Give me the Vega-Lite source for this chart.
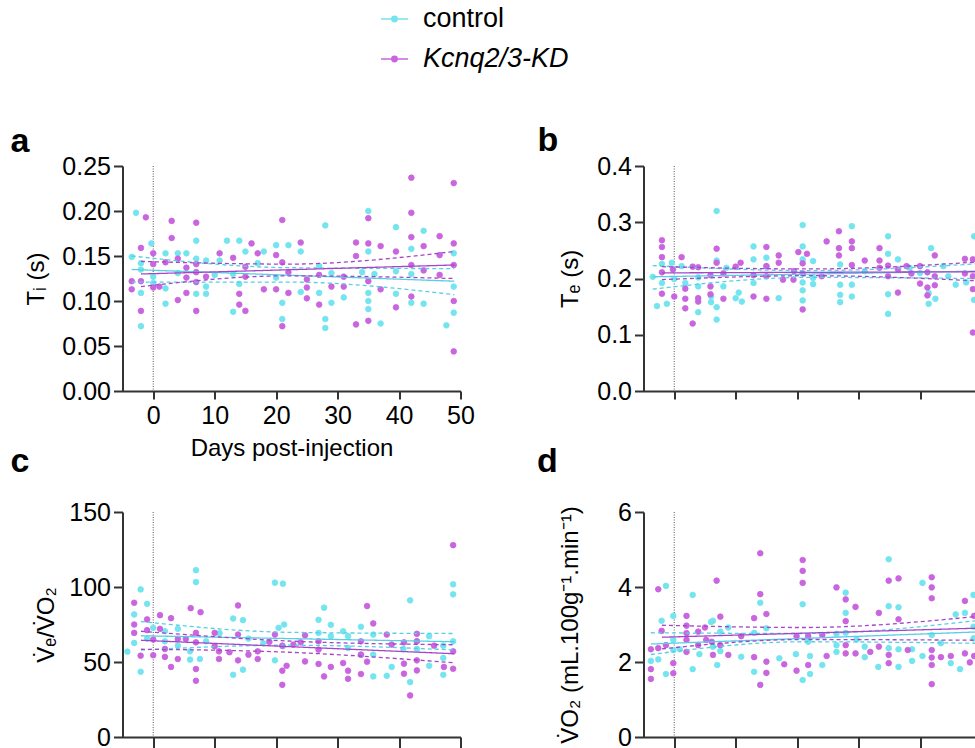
{
"$schema":"https://vega.github.io/schema/vega-lite/v6.json",
"autosize":{"type":"none"},
"padding":{"left":122.5,"top":166,"right":852.5,"bottom":582},
"background":"white",
"config":{
 "font":"Liberation Sans",
 "view":{"stroke":null},
 "axis":{"domainColor":"#333","domainWidth":2,"tickColor":"#333","tickWidth":2,"tickSize":9,"labelFontSize":25,"labelColor":"#000","titleFontSize":24,"titleFontWeight":"normal","titleColor":"#000","grid":false,"labelFont":"Liberation Sans","titleFont":"Liberation Sans","labelFlush":false,"labelOverlap":false},
 "title":{"fontSize":34,"fontWeight":"bold","anchor":"start","frame":"group","color":"#000","baseline":"alphabetic","font":"Liberation Sans"}
},
"datasets":{
"pts":[
{"p":"a","g":"control","d":-3.5,"v":0.149},{"p":"a","g":"control","d":-2.8,"v":0.198},{"p":"a","g":"control","d":-2,"v":0.142},{"p":"a","g":"control","d":-2,"v":0.135},{"p":"a","g":"control","d":-2,"v":0.109},{"p":"a","g":"control","d":-2,"v":0.072},{"p":"a","g":"control","d":-0.3,"v":0.164},{"p":"a","g":"control","d":0,"v":0.127},{"p":"a","g":"control","d":0,"v":0.12},{"p":"a","g":"control","d":2,"v":0.153},{"p":"a","g":"control","d":2,"v":0.114},{"p":"a","g":"control","d":2,"v":0.097},{"p":"a","g":"control","d":4,"v":0.153},{"p":"a","g":"control","d":4,"v":0.131},{"p":"a","g":"control","d":5.4,"v":0.153},{"p":"a","g":"control","d":7,"v":0.167},{"p":"a","g":"control","d":7,"v":0.147},{"p":"a","g":"control","d":7,"v":0.108},{"p":"a","g":"control","d":8.6,"v":0.145},{"p":"a","g":"control","d":8.6,"v":0.116},{"p":"a","g":"control","d":8.6,"v":0.108},{"p":"a","g":"control","d":10,"v":0.129},{"p":"a","g":"control","d":10.8,"v":0.145},{"p":"a","g":"control","d":12,"v":0.167},{"p":"a","g":"control","d":13,"v":0.13},{"p":"a","g":"control","d":13,"v":0.088},{"p":"a","g":"control","d":14,"v":0.167},{"p":"a","g":"control","d":14,"v":0.119},{"p":"a","g":"control","d":15,"v":0.155},{"p":"a","g":"control","d":17,"v":0.142},{"p":"a","g":"control","d":18,"v":0.155},{"p":"a","g":"control","d":20,"v":0.162},{"p":"a","g":"control","d":20,"v":0.126},{"p":"a","g":"control","d":21,"v":0.098},{"p":"a","g":"control","d":21,"v":0.08},{"p":"a","g":"control","d":22,"v":0.162},{"p":"a","g":"control","d":24,"v":0.155},{"p":"a","g":"control","d":24,"v":0.11},{"p":"a","g":"control","d":27,"v":0.139},{"p":"a","g":"control","d":27,"v":0.109},{"p":"a","g":"control","d":28,"v":0.184},{"p":"a","g":"control","d":28,"v":0.08},{"p":"a","g":"control","d":28,"v":0.07},{"p":"a","g":"control","d":29,"v":0.131},{"p":"a","g":"control","d":29,"v":0.098},{"p":"a","g":"control","d":31,"v":0.104},{"p":"a","g":"control","d":34,"v":0.132},{"p":"a","g":"control","d":35,"v":0.2},{"p":"a","g":"control","d":35,"v":0.155},{"p":"a","g":"control","d":35,"v":0.109},{"p":"a","g":"control","d":35,"v":0.1},{"p":"a","g":"control","d":35,"v":0.091},{"p":"a","g":"control","d":36,"v":0.13},{"p":"a","g":"control","d":37,"v":0.075},{"p":"a","g":"control","d":39.5,"v":0.182},{"p":"a","g":"control","d":39.5,"v":0.133},{"p":"a","g":"control","d":39.5,"v":0.108},{"p":"a","g":"control","d":42,"v":0.158},{"p":"a","g":"control","d":42,"v":0.13},{"p":"a","g":"control","d":42,"v":0.098},{"p":"a","g":"control","d":44,"v":0.178},{"p":"a","g":"control","d":44,"v":0.097},{"p":"a","g":"control","d":47.7,"v":0.073},{"p":"a","g":"control","d":48.9,"v":0.153},{"p":"a","g":"control","d":48.9,"v":0.116},{"p":"a","g":"control","d":48.9,"v":0.087},
{"p":"a","g":"Kcnq2/3-KD","d":-3.5,"v":0.122},{"p":"a","g":"Kcnq2/3-KD","d":-3.5,"v":0.113},{"p":"a","g":"Kcnq2/3-KD","d":-2,"v":0.159},{"p":"a","g":"Kcnq2/3-KD","d":-2,"v":0.122},{"p":"a","g":"Kcnq2/3-KD","d":-2,"v":0.089},{"p":"a","g":"Kcnq2/3-KD","d":-1.2,"v":0.193},{"p":"a","g":"Kcnq2/3-KD","d":0,"v":0.153},{"p":"a","g":"Kcnq2/3-KD","d":0,"v":0.141},{"p":"a","g":"Kcnq2/3-KD","d":0,"v":0.115},{"p":"a","g":"Kcnq2/3-KD","d":1,"v":0.116},{"p":"a","g":"Kcnq2/3-KD","d":2,"v":0.143},{"p":"a","g":"Kcnq2/3-KD","d":3,"v":0.189},{"p":"a","g":"Kcnq2/3-KD","d":3,"v":0.17},{"p":"a","g":"Kcnq2/3-KD","d":4,"v":0.147},{"p":"a","g":"Kcnq2/3-KD","d":4,"v":0.101},{"p":"a","g":"Kcnq2/3-KD","d":5.4,"v":0.137},{"p":"a","g":"Kcnq2/3-KD","d":5.4,"v":0.126},{"p":"a","g":"Kcnq2/3-KD","d":5.4,"v":0.109},{"p":"a","g":"Kcnq2/3-KD","d":7,"v":0.187},{"p":"a","g":"Kcnq2/3-KD","d":7,"v":0.141},{"p":"a","g":"Kcnq2/3-KD","d":7,"v":0.132},{"p":"a","g":"Kcnq2/3-KD","d":7,"v":0.121},{"p":"a","g":"Kcnq2/3-KD","d":7,"v":0.089},{"p":"a","g":"Kcnq2/3-KD","d":8.6,"v":0.127},{"p":"a","g":"Kcnq2/3-KD","d":10.8,"v":0.153},{"p":"a","g":"Kcnq2/3-KD","d":13,"v":0.148},{"p":"a","g":"Kcnq2/3-KD","d":14,"v":0.108},{"p":"a","g":"Kcnq2/3-KD","d":14,"v":0.096},{"p":"a","g":"Kcnq2/3-KD","d":15,"v":0.138},{"p":"a","g":"Kcnq2/3-KD","d":15,"v":0.127},{"p":"a","g":"Kcnq2/3-KD","d":15,"v":0.089},{"p":"a","g":"Kcnq2/3-KD","d":16,"v":0.164},{"p":"a","g":"Kcnq2/3-KD","d":17,"v":0.153},{"p":"a","g":"Kcnq2/3-KD","d":18,"v":0.113},{"p":"a","g":"Kcnq2/3-KD","d":20,"v":0.151},{"p":"a","g":"Kcnq2/3-KD","d":20,"v":0.113},{"p":"a","g":"Kcnq2/3-KD","d":21,"v":0.19},{"p":"a","g":"Kcnq2/3-KD","d":21,"v":0.143},{"p":"a","g":"Kcnq2/3-KD","d":21,"v":0.072},{"p":"a","g":"Kcnq2/3-KD","d":22,"v":0.132},{"p":"a","g":"Kcnq2/3-KD","d":22,"v":0.109},{"p":"a","g":"Kcnq2/3-KD","d":24,"v":0.165},{"p":"a","g":"Kcnq2/3-KD","d":25,"v":0.124},{"p":"a","g":"Kcnq2/3-KD","d":25,"v":0.115},{"p":"a","g":"Kcnq2/3-KD","d":25,"v":0.103},{"p":"a","g":"Kcnq2/3-KD","d":27,"v":0.129},{"p":"a","g":"Kcnq2/3-KD","d":27,"v":0.096},{"p":"a","g":"Kcnq2/3-KD","d":29,"v":0.116},{"p":"a","g":"Kcnq2/3-KD","d":31,"v":0.127},{"p":"a","g":"Kcnq2/3-KD","d":31,"v":0.116},{"p":"a","g":"Kcnq2/3-KD","d":33,"v":0.165},{"p":"a","g":"Kcnq2/3-KD","d":33,"v":0.15},{"p":"a","g":"Kcnq2/3-KD","d":33,"v":0.074},{"p":"a","g":"Kcnq2/3-KD","d":35,"v":0.192},{"p":"a","g":"Kcnq2/3-KD","d":35,"v":0.164},{"p":"a","g":"Kcnq2/3-KD","d":35,"v":0.122},{"p":"a","g":"Kcnq2/3-KD","d":35,"v":0.078},{"p":"a","g":"Kcnq2/3-KD","d":37,"v":0.161},{"p":"a","g":"Kcnq2/3-KD","d":37,"v":0.113},{"p":"a","g":"Kcnq2/3-KD","d":39.5,"v":0.155},{"p":"a","g":"Kcnq2/3-KD","d":39.5,"v":0.093},{"p":"a","g":"Kcnq2/3-KD","d":42,"v":0.237},{"p":"a","g":"Kcnq2/3-KD","d":42,"v":0.198},{"p":"a","g":"Kcnq2/3-KD","d":42,"v":0.171},{"p":"a","g":"Kcnq2/3-KD","d":42,"v":0.14},{"p":"a","g":"Kcnq2/3-KD","d":42,"v":0.105},{"p":"a","g":"Kcnq2/3-KD","d":44,"v":0.161},{"p":"a","g":"Kcnq2/3-KD","d":44,"v":0.134},{"p":"a","g":"Kcnq2/3-KD","d":46.6,"v":0.172},{"p":"a","g":"Kcnq2/3-KD","d":46.6,"v":0.151},{"p":"a","g":"Kcnq2/3-KD","d":46.6,"v":0.129},{"p":"a","g":"Kcnq2/3-KD","d":48.9,"v":0.231},{"p":"a","g":"Kcnq2/3-KD","d":48.9,"v":0.164},{"p":"a","g":"Kcnq2/3-KD","d":48.9,"v":0.14},{"p":"a","g":"Kcnq2/3-KD","d":48.9,"v":0.1},{"p":"a","g":"Kcnq2/3-KD","d":48.9,"v":0.044},
{"p":"b","g":"control","d":-3.5,"v":0.203},{"p":"b","g":"control","d":-2.8,"v":0.151},{"p":"b","g":"control","d":-2,"v":0.226},{"p":"b","g":"control","d":-2,"v":0.192},{"p":"b","g":"control","d":-1.2,"v":0.155},{"p":"b","g":"control","d":-0.4,"v":0.228},{"p":"b","g":"control","d":0,"v":0.199},{"p":"b","g":"control","d":1.2,"v":0.222},{"p":"b","g":"control","d":1.8,"v":0.192},{"p":"b","g":"control","d":3.9,"v":0.202},{"p":"b","g":"control","d":3.9,"v":0.186},{"p":"b","g":"control","d":3.9,"v":0.14},{"p":"b","g":"control","d":6,"v":0.168},{"p":"b","g":"control","d":6,"v":0.158},{"p":"b","g":"control","d":6.9,"v":0.32},{"p":"b","g":"control","d":6.9,"v":0.232},{"p":"b","g":"control","d":6.9,"v":0.149},{"p":"b","g":"control","d":6.9,"v":0.127},{"p":"b","g":"control","d":8,"v":0.186},{"p":"b","g":"control","d":8.5,"v":0.219},{"p":"b","g":"control","d":10,"v":0.165},{"p":"b","g":"control","d":10.5,"v":0.175},{"p":"b","g":"control","d":11,"v":0.159},{"p":"b","g":"control","d":12.9,"v":0.257},{"p":"b","g":"control","d":12.9,"v":0.234},{"p":"b","g":"control","d":12.9,"v":0.192},{"p":"b","g":"control","d":15,"v":0.237},{"p":"b","g":"control","d":15,"v":0.222},{"p":"b","g":"control","d":17,"v":0.165},{"p":"b","g":"control","d":20.9,"v":0.295},{"p":"b","g":"control","d":20.9,"v":0.257},{"p":"b","g":"control","d":20.9,"v":0.234},{"p":"b","g":"control","d":20.9,"v":0.193},{"p":"b","g":"control","d":20.9,"v":0.179},{"p":"b","g":"control","d":20.9,"v":0.161},{"p":"b","g":"control","d":22.6,"v":0.231},{"p":"b","g":"control","d":22.6,"v":0.201},{"p":"b","g":"control","d":22.6,"v":0.19},{"p":"b","g":"control","d":27,"v":0.225},{"p":"b","g":"control","d":27,"v":0.189},{"p":"b","g":"control","d":27,"v":0.171},{"p":"b","g":"control","d":27,"v":0.158},{"p":"b","g":"control","d":28.9,"v":0.293},{"p":"b","g":"control","d":28.9,"v":0.189},{"p":"b","g":"control","d":28.9,"v":0.168},{"p":"b","g":"control","d":31,"v":0.213},{"p":"b","g":"control","d":34.8,"v":0.275},{"p":"b","g":"control","d":34.8,"v":0.244},{"p":"b","g":"control","d":34.8,"v":0.172},{"p":"b","g":"control","d":34.8,"v":0.137},{"p":"b","g":"control","d":36.4,"v":0.234},{"p":"b","g":"control","d":38.3,"v":0.219},{"p":"b","g":"control","d":40,"v":0.21},{"p":"b","g":"control","d":41.8,"v":0.254},{"p":"b","g":"control","d":41.4,"v":0.174},{"p":"b","g":"control","d":41.4,"v":0.155},{"p":"b","g":"control","d":42.5,"v":0.164},{"p":"b","g":"control","d":43.8,"v":0.222},{"p":"b","g":"control","d":44.6,"v":0.204},{"p":"b","g":"control","d":45.8,"v":0.189},{"p":"b","g":"control","d":47.5,"v":0.193},{"p":"b","g":"control","d":48.8,"v":0.275},{"p":"b","g":"control","d":48.8,"v":0.162},
{"p":"b","g":"Kcnq2/3-KD","d":-2,"v":0.268},{"p":"b","g":"Kcnq2/3-KD","d":-2,"v":0.256},{"p":"b","g":"Kcnq2/3-KD","d":-2,"v":0.238},{"p":"b","g":"Kcnq2/3-KD","d":-2,"v":0.211},{"p":"b","g":"Kcnq2/3-KD","d":-2,"v":0.173},{"p":"b","g":"Kcnq2/3-KD","d":-0.2,"v":0.216},{"p":"b","g":"Kcnq2/3-KD","d":0,"v":0.168},{"p":"b","g":"Kcnq2/3-KD","d":1.2,"v":0.238},{"p":"b","g":"Kcnq2/3-KD","d":1.8,"v":0.182},{"p":"b","g":"Kcnq2/3-KD","d":1.8,"v":0.164},{"p":"b","g":"Kcnq2/3-KD","d":1.8,"v":0.147},{"p":"b","g":"Kcnq2/3-KD","d":3,"v":0.221},{"p":"b","g":"Kcnq2/3-KD","d":3,"v":0.12},{"p":"b","g":"Kcnq2/3-KD","d":3.9,"v":0.22},{"p":"b","g":"Kcnq2/3-KD","d":3.9,"v":0.165},{"p":"b","g":"Kcnq2/3-KD","d":3.9,"v":0.159},{"p":"b","g":"Kcnq2/3-KD","d":5.9,"v":0.206},{"p":"b","g":"Kcnq2/3-KD","d":5.9,"v":0.186},{"p":"b","g":"Kcnq2/3-KD","d":5.9,"v":0.172},{"p":"b","g":"Kcnq2/3-KD","d":6.9,"v":0.253},{"p":"b","g":"Kcnq2/3-KD","d":6.9,"v":0.228},{"p":"b","g":"Kcnq2/3-KD","d":8,"v":0.209},{"p":"b","g":"Kcnq2/3-KD","d":8,"v":0.164},{"p":"b","g":"Kcnq2/3-KD","d":10,"v":0.221},{"p":"b","g":"Kcnq2/3-KD","d":10.8,"v":0.228},{"p":"b","g":"Kcnq2/3-KD","d":12.9,"v":0.206},{"p":"b","g":"Kcnq2/3-KD","d":12.9,"v":0.168},{"p":"b","g":"Kcnq2/3-KD","d":15,"v":0.256},{"p":"b","g":"Kcnq2/3-KD","d":15,"v":0.222},{"p":"b","g":"Kcnq2/3-KD","d":15,"v":0.204},{"p":"b","g":"Kcnq2/3-KD","d":15,"v":0.164},{"p":"b","g":"Kcnq2/3-KD","d":17,"v":0.241},{"p":"b","g":"Kcnq2/3-KD","d":17,"v":0.228},{"p":"b","g":"Kcnq2/3-KD","d":17.7,"v":0.198},{"p":"b","g":"Kcnq2/3-KD","d":19.4,"v":0.198},{"p":"b","g":"Kcnq2/3-KD","d":19.5,"v":0.213},{"p":"b","g":"Kcnq2/3-KD","d":20.2,"v":0.247},{"p":"b","g":"Kcnq2/3-KD","d":20.9,"v":0.227},{"p":"b","g":"Kcnq2/3-KD","d":20.9,"v":0.209},{"p":"b","g":"Kcnq2/3-KD","d":20.9,"v":0.145},{"p":"b","g":"Kcnq2/3-KD","d":21.6,"v":0.244},{"p":"b","g":"Kcnq2/3-KD","d":24,"v":0.204},{"p":"b","g":"Kcnq2/3-KD","d":24.8,"v":0.266},{"p":"b","g":"Kcnq2/3-KD","d":26.8,"v":0.284},{"p":"b","g":"Kcnq2/3-KD","d":26.8,"v":0.254},{"p":"b","g":"Kcnq2/3-KD","d":26.8,"v":0.241},{"p":"b","g":"Kcnq2/3-KD","d":28.9,"v":0.266},{"p":"b","g":"Kcnq2/3-KD","d":28.9,"v":0.254},{"p":"b","g":"Kcnq2/3-KD","d":28.9,"v":0.224},{"p":"b","g":"Kcnq2/3-KD","d":31,"v":0.232},{"p":"b","g":"Kcnq2/3-KD","d":33.4,"v":0.254},{"p":"b","g":"Kcnq2/3-KD","d":33.4,"v":0.232},{"p":"b","g":"Kcnq2/3-KD","d":33.4,"v":0.219},{"p":"b","g":"Kcnq2/3-KD","d":34.8,"v":0.223},{"p":"b","g":"Kcnq2/3-KD","d":34.8,"v":0.204},{"p":"b","g":"Kcnq2/3-KD","d":36.4,"v":0.216},{"p":"b","g":"Kcnq2/3-KD","d":36.4,"v":0.175},{"p":"b","g":"Kcnq2/3-KD","d":37.8,"v":0.222},{"p":"b","g":"Kcnq2/3-KD","d":38.6,"v":0.209},{"p":"b","g":"Kcnq2/3-KD","d":40,"v":0.222},{"p":"b","g":"Kcnq2/3-KD","d":40,"v":0.191},{"p":"b","g":"Kcnq2/3-KD","d":41.2,"v":0.211},{"p":"b","g":"Kcnq2/3-KD","d":41.2,"v":0.184},{"p":"b","g":"Kcnq2/3-KD","d":41.2,"v":0.17},{"p":"b","g":"Kcnq2/3-KD","d":42.4,"v":0.241},{"p":"b","g":"Kcnq2/3-KD","d":42.4,"v":0.204},{"p":"b","g":"Kcnq2/3-KD","d":42.4,"v":0.188},{"p":"b","g":"Kcnq2/3-KD","d":47.3,"v":0.235},{"p":"b","g":"Kcnq2/3-KD","d":47.3,"v":0.209},{"p":"b","g":"Kcnq2/3-KD","d":48.6,"v":0.234},{"p":"b","g":"Kcnq2/3-KD","d":48.6,"v":0.204},{"p":"b","g":"Kcnq2/3-KD","d":48.6,"v":0.181},{"p":"b","g":"Kcnq2/3-KD","d":48.6,"v":0.104},
{"p":"c","g":"control","d":-4.2,"v":56.9},{"p":"c","g":"control","d":-3.1,"v":81.7},{"p":"c","g":"control","d":-3.1,"v":62.7},{"p":"c","g":"control","d":-2.05,"v":98.4},{"p":"c","g":"control","d":-2.05,"v":43.5},{"p":"c","g":"control","d":-1,"v":88.8},{"p":"c","g":"control","d":-1,"v":65.6},{"p":"c","g":"control","d":0,"v":72.8},{"p":"c","g":"control","d":1.9,"v":70.5},{"p":"c","g":"control","d":1.9,"v":63.8},{"p":"c","g":"control","d":4,"v":72.1},{"p":"c","g":"control","d":4,"v":60.9},{"p":"c","g":"control","d":6,"v":57.1},{"p":"c","g":"control","d":6,"v":51.6},{"p":"c","g":"control","d":6.95,"v":111.2},{"p":"c","g":"control","d":6.95,"v":103.3},{"p":"c","g":"control","d":7.6,"v":52},{"p":"c","g":"control","d":8.6,"v":63.8},{"p":"c","g":"control","d":10.8,"v":69.2},{"p":"c","g":"control","d":13,"v":79},{"p":"c","g":"control","d":13,"v":41.5},{"p":"c","g":"control","d":14.6,"v":77.9},{"p":"c","g":"control","d":14.6,"v":44.9},{"p":"c","g":"control","d":15.5,"v":65.6},{"p":"c","g":"control","d":17.9,"v":62.5},{"p":"c","g":"control","d":19.8,"v":102.9},{"p":"c","g":"control","d":21.1,"v":102.2},{"p":"c","g":"control","d":19.8,"v":51.1},{"p":"c","g":"control","d":20.4,"v":72.8},{"p":"c","g":"control","d":21.3,"v":75},{"p":"c","g":"control","d":21.1,"v":60.5},{"p":"c","g":"control","d":26.9,"v":78.1},{"p":"c","g":"control","d":26.9,"v":69.4},{"p":"c","g":"control","d":27.8,"v":86.2},{"p":"c","g":"control","d":28.9,"v":74.8},{"p":"c","g":"control","d":28.9,"v":67.2},{"p":"c","g":"control","d":30.9,"v":70.5},{"p":"c","g":"control","d":31.7,"v":67.2},{"p":"c","g":"control","d":31.7,"v":59.4},{"p":"c","g":"control","d":33.8,"v":73.5},{"p":"c","g":"control","d":33.8,"v":54.9},{"p":"c","g":"control","d":35.8,"v":68.3},{"p":"c","g":"control","d":35.8,"v":54.9},{"p":"c","g":"control","d":35.8,"v":40.4},{"p":"c","g":"control","d":38,"v":40.8},{"p":"c","g":"control","d":38.8,"v":46.7},{"p":"c","g":"control","d":40.7,"v":58.7},{"p":"c","g":"control","d":41.8,"v":91.1},{"p":"c","g":"control","d":41.8,"v":36.6},{"p":"c","g":"control","d":42.9,"v":63.8},{"p":"c","g":"control","d":42.9,"v":58.7},{"p":"c","g":"control","d":44.9,"v":67.2},{"p":"c","g":"control","d":44.9,"v":47.5},{"p":"c","g":"control","d":47.2,"v":52.7},{"p":"c","g":"control","d":47.2,"v":41.5},{"p":"c","g":"control","d":47.2,"v":60.9},{"p":"c","g":"control","d":48.8,"v":101.8},{"p":"c","g":"control","d":48.8,"v":95.1},{"p":"c","g":"control","d":48.8,"v":63.8},
{"p":"c","g":"Kcnq2/3-KD","d":-3.1,"v":89.5},{"p":"c","g":"Kcnq2/3-KD","d":-3.1,"v":75},{"p":"c","g":"Kcnq2/3-KD","d":-3.1,"v":69.4},{"p":"c","g":"Kcnq2/3-KD","d":-2.05,"v":54.2},{"p":"c","g":"Kcnq2/3-KD","d":-1,"v":78.4},{"p":"c","g":"Kcnq2/3-KD","d":-1,"v":71.2},{"p":"c","g":"Kcnq2/3-KD","d":0,"v":65},{"p":"c","g":"Kcnq2/3-KD","d":0,"v":54.5},{"p":"c","g":"Kcnq2/3-KD","d":1.1,"v":81.2},{"p":"c","g":"Kcnq2/3-KD","d":1.1,"v":72.1},{"p":"c","g":"Kcnq2/3-KD","d":1.9,"v":58.7},{"p":"c","g":"Kcnq2/3-KD","d":1.9,"v":53.4},{"p":"c","g":"Kcnq2/3-KD","d":2.9,"v":79.2},{"p":"c","g":"Kcnq2/3-KD","d":2.9,"v":46.7},{"p":"c","g":"Kcnq2/3-KD","d":4,"v":65.4},{"p":"c","g":"Kcnq2/3-KD","d":4,"v":52},{"p":"c","g":"Kcnq2/3-KD","d":5.3,"v":65.4},{"p":"c","g":"Kcnq2/3-KD","d":6.1,"v":85.9},{"p":"c","g":"Kcnq2/3-KD","d":6.95,"v":69.4},{"p":"c","g":"Kcnq2/3-KD","d":6.95,"v":63.1},{"p":"c","g":"Kcnq2/3-KD","d":6.95,"v":45.3},{"p":"c","g":"Kcnq2/3-KD","d":6.95,"v":37.5},{"p":"c","g":"Kcnq2/3-KD","d":7.7,"v":83.2},{"p":"c","g":"Kcnq2/3-KD","d":10,"v":69.4},{"p":"c","g":"Kcnq2/3-KD","d":10,"v":60.5},{"p":"c","g":"Kcnq2/3-KD","d":10.7,"v":57.1},{"p":"c","g":"Kcnq2/3-KD","d":10.7,"v":52},{"p":"c","g":"Kcnq2/3-KD","d":12.4,"v":56.5},{"p":"c","g":"Kcnq2/3-KD","d":13.8,"v":87.7},{"p":"c","g":"Kcnq2/3-KD","d":13.8,"v":68.3},{"p":"c","g":"Kcnq2/3-KD","d":13.8,"v":51.1},{"p":"c","g":"Kcnq2/3-KD","d":15.5,"v":54.9},{"p":"c","g":"Kcnq2/3-KD","d":17,"v":57.1},{"p":"c","g":"Kcnq2/3-KD","d":17,"v":52},{"p":"c","g":"Kcnq2/3-KD","d":18.9,"v":63.4},{"p":"c","g":"Kcnq2/3-KD","d":19.8,"v":68.3},{"p":"c","g":"Kcnq2/3-KD","d":21,"v":60.9},{"p":"c","g":"Kcnq2/3-KD","d":21,"v":44.2},{"p":"c","g":"Kcnq2/3-KD","d":21,"v":34.8},{"p":"c","g":"Kcnq2/3-KD","d":21.7,"v":47.5},{"p":"c","g":"Kcnq2/3-KD","d":22.8,"v":61.6},{"p":"c","g":"Kcnq2/3-KD","d":24,"v":63.1},{"p":"c","g":"Kcnq2/3-KD","d":24.7,"v":67.8},{"p":"c","g":"Kcnq2/3-KD","d":24.7,"v":50.4},{"p":"c","g":"Kcnq2/3-KD","d":26.9,"v":63.8},{"p":"c","g":"Kcnq2/3-KD","d":26.9,"v":58.3},{"p":"c","g":"Kcnq2/3-KD","d":26.9,"v":48.7},{"p":"c","g":"Kcnq2/3-KD","d":27.8,"v":40.4},{"p":"c","g":"Kcnq2/3-KD","d":28.9,"v":46.7},{"p":"c","g":"Kcnq2/3-KD","d":30.9,"v":49.3},{"p":"c","g":"Kcnq2/3-KD","d":31.7,"v":44.2},{"p":"c","g":"Kcnq2/3-KD","d":31.7,"v":38.8},{"p":"c","g":"Kcnq2/3-KD","d":33.8,"v":63.8},{"p":"c","g":"Kcnq2/3-KD","d":33.8,"v":54.9},{"p":"c","g":"Kcnq2/3-KD","d":33.8,"v":42},{"p":"c","g":"Kcnq2/3-KD","d":34.8,"v":87.3},{"p":"c","g":"Kcnq2/3-KD","d":34.8,"v":50.2},{"p":"c","g":"Kcnq2/3-KD","d":35.8,"v":75.7},{"p":"c","g":"Kcnq2/3-KD","d":38,"v":68.3},{"p":"c","g":"Kcnq2/3-KD","d":38.8,"v":61.6},{"p":"c","g":"Kcnq2/3-KD","d":40.8,"v":63.1},{"p":"c","g":"Kcnq2/3-KD","d":40.8,"v":48.9},{"p":"c","g":"Kcnq2/3-KD","d":40.8,"v":42.2},{"p":"c","g":"Kcnq2/3-KD","d":41.8,"v":27.7},{"p":"c","g":"Kcnq2/3-KD","d":42.9,"v":68.8},{"p":"c","g":"Kcnq2/3-KD","d":42.9,"v":63.8},{"p":"c","g":"Kcnq2/3-KD","d":42.9,"v":51.1},{"p":"c","g":"Kcnq2/3-KD","d":42.9,"v":44.4},{"p":"c","g":"Kcnq2/3-KD","d":45.7,"v":60.9},{"p":"c","g":"Kcnq2/3-KD","d":47.3,"v":46.7},{"p":"c","g":"Kcnq2/3-KD","d":48.8,"v":127.9},{"p":"c","g":"Kcnq2/3-KD","d":48.8,"v":57.1},{"p":"c","g":"Kcnq2/3-KD","d":48.8,"v":45.5},
{"p":"d","g":"control","d":-3.8,"v":2.03},{"p":"d","g":"control","d":-2.6,"v":2.07},{"p":"d","g":"control","d":-2.05,"v":3.1},{"p":"d","g":"control","d":-1.35,"v":4.03},{"p":"d","g":"control","d":-1.35,"v":1.68},{"p":"d","g":"control","d":-0.15,"v":3.23},{"p":"d","g":"control","d":-0.15,"v":2.59},{"p":"d","g":"control","d":-0.15,"v":2.32},{"p":"d","g":"control","d":0.9,"v":2.34},{"p":"d","g":"control","d":3,"v":3.79},{"p":"d","g":"control","d":3,"v":1.81},{"p":"d","g":"control","d":4.1,"v":2.21},{"p":"d","g":"control","d":6,"v":3.07},{"p":"d","g":"control","d":6.3,"v":3.1},{"p":"d","g":"control","d":6.3,"v":2.41},{"p":"d","g":"control","d":7,"v":1.92},{"p":"d","g":"control","d":7.5,"v":2.81},{"p":"d","g":"control","d":7.5,"v":2.29},{"p":"d","g":"control","d":8.8,"v":2.92},{"p":"d","g":"control","d":10.9,"v":2.14},{"p":"d","g":"control","d":13,"v":2.78},{"p":"d","g":"control","d":13,"v":1.74},{"p":"d","g":"control","d":14,"v":3.58},{"p":"d","g":"control","d":15,"v":2.9},{"p":"d","g":"control","d":17.1,"v":2.1},{"p":"d","g":"control","d":19.8,"v":2.21},{"p":"d","g":"control","d":20.9,"v":3.54},{"p":"d","g":"control","d":20.9,"v":1.52},{"p":"d","g":"control","d":21.8,"v":2.54},{"p":"d","g":"control","d":22.1,"v":2.16},{"p":"d","g":"control","d":22.1,"v":1.68},{"p":"d","g":"control","d":24.1,"v":1.92},{"p":"d","g":"control","d":26.4,"v":2.75},{"p":"d","g":"control","d":26.4,"v":2.45},{"p":"d","g":"control","d":26.4,"v":2.27},{"p":"d","g":"control","d":27.9,"v":3.85},{"p":"d","g":"control","d":27.9,"v":3.31},{"p":"d","g":"control","d":27.9,"v":2.78},{"p":"d","g":"control","d":29.7,"v":2.6},{"p":"d","g":"control","d":31,"v":2.41},{"p":"d","g":"control","d":31,"v":2.13},{"p":"d","g":"control","d":33.2,"v":1.87},{"p":"d","g":"control","d":34.9,"v":4.74},{"p":"d","g":"control","d":34.9,"v":3.49},{"p":"d","g":"control","d":34.9,"v":2.37},{"p":"d","g":"control","d":36.5,"v":3.46},{"p":"d","g":"control","d":36.5,"v":2.34},{"p":"d","g":"control","d":36.5,"v":1.87},{"p":"d","g":"control","d":38.7,"v":2.34},{"p":"d","g":"control","d":38.7,"v":2.03},{"p":"d","g":"control","d":40.4,"v":4.11},{"p":"d","g":"control","d":40.4,"v":2.16},{"p":"d","g":"control","d":41.9,"v":2.72},{"p":"d","g":"control","d":43.4,"v":2.5},{"p":"d","g":"control","d":45,"v":1.97},{"p":"d","g":"control","d":45.8,"v":3.27},{"p":"d","g":"control","d":46.5,"v":1.81},{"p":"d","g":"control","d":47.3,"v":3.31},{"p":"d","g":"control","d":48.7,"v":3.79},{"p":"d","g":"control","d":48.7,"v":2.94},{"p":"d","g":"control","d":48.7,"v":2.63},
{"p":"d","g":"Kcnq2/3-KD","d":-3.8,"v":2.34},{"p":"d","g":"Kcnq2/3-KD","d":-3.8,"v":1.81},{"p":"d","g":"Kcnq2/3-KD","d":-3.8,"v":1.55},{"p":"d","g":"Kcnq2/3-KD","d":-2.6,"v":3.94},{"p":"d","g":"Kcnq2/3-KD","d":-2.6,"v":2.37},{"p":"d","g":"Kcnq2/3-KD","d":-2.05,"v":2.83},{"p":"d","g":"Kcnq2/3-KD","d":-1.35,"v":2.45},{"p":"d","g":"Kcnq2/3-KD","d":-0.15,"v":1.97},{"p":"d","g":"Kcnq2/3-KD","d":-0.15,"v":1.7},{"p":"d","g":"Kcnq2/3-KD","d":2,"v":3.23},{"p":"d","g":"Kcnq2/3-KD","d":2,"v":2.97},{"p":"d","g":"Kcnq2/3-KD","d":2,"v":2.77},{"p":"d","g":"Kcnq2/3-KD","d":2,"v":2.59},{"p":"d","g":"Kcnq2/3-KD","d":2,"v":2.27},{"p":"d","g":"Kcnq2/3-KD","d":3.9,"v":2.81},{"p":"d","g":"Kcnq2/3-KD","d":3.9,"v":2.45},{"p":"d","g":"Kcnq2/3-KD","d":5,"v":2.92},{"p":"d","g":"Kcnq2/3-KD","d":5.2,"v":2.59},{"p":"d","g":"Kcnq2/3-KD","d":6.1,"v":2.54},{"p":"d","g":"Kcnq2/3-KD","d":6.3,"v":2.19},{"p":"d","g":"Kcnq2/3-KD","d":6.9,"v":4.17},{"p":"d","g":"Kcnq2/3-KD","d":7.5,"v":3.21},{"p":"d","g":"Kcnq2/3-KD","d":7.5,"v":2.45},{"p":"d","g":"Kcnq2/3-KD","d":8.8,"v":2.19},{"p":"d","g":"Kcnq2/3-KD","d":10.9,"v":2.69},{"p":"d","g":"Kcnq2/3-KD","d":13,"v":3.17},{"p":"d","g":"Kcnq2/3-KD","d":13,"v":2.13},{"p":"d","g":"Kcnq2/3-KD","d":14,"v":4.9},{"p":"d","g":"Kcnq2/3-KD","d":14,"v":3.81},{"p":"d","g":"Kcnq2/3-KD","d":14,"v":1.39},{"p":"d","g":"Kcnq2/3-KD","d":15,"v":3.28},{"p":"d","g":"Kcnq2/3-KD","d":15,"v":2.01},{"p":"d","g":"Kcnq2/3-KD","d":15,"v":1.71},{"p":"d","g":"Kcnq2/3-KD","d":17.9,"v":1.94},{"p":"d","g":"Kcnq2/3-KD","d":19.9,"v":2.69},{"p":"d","g":"Kcnq2/3-KD","d":19.9,"v":1.77},{"p":"d","g":"Kcnq2/3-KD","d":20.9,"v":4.72},{"p":"d","g":"Kcnq2/3-KD","d":20.9,"v":4.43},{"p":"d","g":"Kcnq2/3-KD","d":20.9,"v":4.11},{"p":"d","g":"Kcnq2/3-KD","d":21.8,"v":2.69},{"p":"d","g":"Kcnq2/3-KD","d":21.8,"v":1.92},{"p":"d","g":"Kcnq2/3-KD","d":24.1,"v":2.72},{"p":"d","g":"Kcnq2/3-KD","d":24.8,"v":2.16},{"p":"d","g":"Kcnq2/3-KD","d":26.4,"v":3.99},{"p":"d","g":"Kcnq2/3-KD","d":27.9,"v":3.67},{"p":"d","g":"Kcnq2/3-KD","d":27.9,"v":3.09},{"p":"d","g":"Kcnq2/3-KD","d":27.9,"v":2.45},{"p":"d","g":"Kcnq2/3-KD","d":27.9,"v":2.23},{"p":"d","g":"Kcnq2/3-KD","d":29.5,"v":3.47},{"p":"d","g":"Kcnq2/3-KD","d":29.5,"v":2.23},{"p":"d","g":"Kcnq2/3-KD","d":31.9,"v":2.27},{"p":"d","g":"Kcnq2/3-KD","d":33.3,"v":3.31},{"p":"d","g":"Kcnq2/3-KD","d":33.3,"v":2.41},{"p":"d","g":"Kcnq2/3-KD","d":34.9,"v":4.17},{"p":"d","g":"Kcnq2/3-KD","d":34.9,"v":2.19},{"p":"d","g":"Kcnq2/3-KD","d":34.9,"v":1.97},{"p":"d","g":"Kcnq2/3-KD","d":36.5,"v":4.23},{"p":"d","g":"Kcnq2/3-KD","d":36.5,"v":3.14},{"p":"d","g":"Kcnq2/3-KD","d":38,"v":2.32},{"p":"d","g":"Kcnq2/3-KD","d":41.9,"v":4.26},{"p":"d","g":"Kcnq2/3-KD","d":41.9,"v":3.99},{"p":"d","g":"Kcnq2/3-KD","d":41.9,"v":3.7},{"p":"d","g":"Kcnq2/3-KD","d":41.9,"v":2.32},{"p":"d","g":"Kcnq2/3-KD","d":41.9,"v":2.12},{"p":"d","g":"Kcnq2/3-KD","d":41.9,"v":1.92},{"p":"d","g":"Kcnq2/3-KD","d":41.9,"v":1.41},{"p":"d","g":"Kcnq2/3-KD","d":43.4,"v":2.13},{"p":"d","g":"Kcnq2/3-KD","d":45,"v":2.16},{"p":"d","g":"Kcnq2/3-KD","d":47.3,"v":3.63},{"p":"d","g":"Kcnq2/3-KD","d":47.3,"v":2.23},{"p":"d","g":"Kcnq2/3-KD","d":48.1,"v":1.99},{"p":"d","g":"Kcnq2/3-KD","d":48.8,"v":3.23},{"p":"d","g":"Kcnq2/3-KD","d":48.8,"v":2.16}
],
"fits":[
{"p":"a","g":"control","k":"fit","d":-3.5,"v":0.135},{"p":"a","g":"control","k":"fit","d":49,"v":0.122},
{"p":"a","g":"control","k":"upper","d":-3.5,"v":0.150},{"p":"a","g":"control","k":"upper","d":22,"v":0.137},{"p":"a","g":"control","k":"upper","d":49,"v":0.136},
{"p":"a","g":"control","k":"lower","d":-3.5,"v":0.121},{"p":"a","g":"control","k":"lower","d":22,"v":0.121},{"p":"a","g":"control","k":"lower","d":49,"v":0.107},
{"p":"a","g":"Kcnq2/3-KD","k":"fit","d":-2,"v":0.130},{"p":"a","g":"Kcnq2/3-KD","k":"fit","d":49,"v":0.140},
{"p":"a","g":"Kcnq2/3-KD","k":"upper","d":-2,"v":0.144},{"p":"a","g":"Kcnq2/3-KD","k":"upper","d":22,"v":0.141},{"p":"a","g":"Kcnq2/3-KD","k":"upper","d":49,"v":0.155},
{"p":"a","g":"Kcnq2/3-KD","k":"lower","d":-2,"v":0.116},{"p":"a","g":"Kcnq2/3-KD","k":"lower","d":22,"v":0.128},{"p":"a","g":"Kcnq2/3-KD","k":"lower","d":49,"v":0.125},
{"p":"b","g":"control","k":"fit","d":-3.5,"v":0.203},{"p":"b","g":"control","k":"fit","d":49,"v":0.213},
{"p":"b","g":"control","k":"upper","d":-3.5,"v":0.223},{"p":"b","g":"control","k":"upper","d":22,"v":0.214},{"p":"b","g":"control","k":"upper","d":49,"v":0.226},
{"p":"b","g":"control","k":"lower","d":-3.5,"v":0.181},{"p":"b","g":"control","k":"lower","d":22,"v":0.202},{"p":"b","g":"control","k":"lower","d":49,"v":0.200},
{"p":"b","g":"Kcnq2/3-KD","k":"fit","d":-2,"v":0.210},{"p":"b","g":"Kcnq2/3-KD","k":"fit","d":49,"v":0.212},
{"p":"b","g":"Kcnq2/3-KD","k":"upper","d":-2,"v":0.221},{"p":"b","g":"Kcnq2/3-KD","k":"upper","d":22,"v":0.217},{"p":"b","g":"Kcnq2/3-KD","k":"upper","d":49,"v":0.229},
{"p":"b","g":"Kcnq2/3-KD","k":"lower","d":-2,"v":0.198},{"p":"b","g":"Kcnq2/3-KD","k":"lower","d":22,"v":0.205},{"p":"b","g":"Kcnq2/3-KD","k":"lower","d":49,"v":0.196},
{"p":"c","g":"control","k":"fit","d":-2,"v":67.5},{"p":"c","g":"control","k":"fit","d":49,"v":63.5},
{"p":"c","g":"control","k":"upper","d":-2,"v":77},{"p":"c","g":"control","k":"upper","d":22,"v":69.8},{"p":"c","g":"control","k":"upper","d":49,"v":69},
{"p":"c","g":"control","k":"lower","d":-2,"v":58},{"p":"c","g":"control","k":"lower","d":22,"v":61.2},{"p":"c","g":"control","k":"lower","d":49,"v":58},
{"p":"c","g":"Kcnq2/3-KD","k":"fit","d":-2,"v":64.5},{"p":"c","g":"Kcnq2/3-KD","k":"fit","d":49,"v":55.5},
{"p":"c","g":"Kcnq2/3-KD","k":"upper","d":-2,"v":70.5},{"p":"c","g":"Kcnq2/3-KD","k":"upper","d":22,"v":64},{"p":"c","g":"Kcnq2/3-KD","k":"upper","d":49,"v":61.5},
{"p":"c","g":"Kcnq2/3-KD","k":"lower","d":-2,"v":58.5},{"p":"c","g":"Kcnq2/3-KD","k":"lower","d":22,"v":56.5},{"p":"c","g":"Kcnq2/3-KD","k":"lower","d":49,"v":49.5},
{"p":"d","g":"control","k":"fit","d":-3.8,"v":2.48},{"p":"d","g":"control","k":"fit","d":49,"v":2.80},
{"p":"d","g":"control","k":"upper","d":-3.8,"v":2.78},{"p":"d","g":"control","k":"upper","d":21,"v":2.76},{"p":"d","g":"control","k":"upper","d":49,"v":3.10},
{"p":"d","g":"control","k":"lower","d":-3.8,"v":2.20},{"p":"d","g":"control","k":"lower","d":21,"v":2.54},{"p":"d","g":"control","k":"lower","d":49,"v":2.50},
{"p":"d","g":"Kcnq2/3-KD","k":"fit","d":-2,"v":2.66},{"p":"d","g":"Kcnq2/3-KD","k":"fit","d":49,"v":2.90},
{"p":"d","g":"Kcnq2/3-KD","k":"upper","d":-2,"v":2.98},{"p":"d","g":"Kcnq2/3-KD","k":"upper","d":21,"v":2.92},{"p":"d","g":"Kcnq2/3-KD","k":"upper","d":49,"v":3.21},
{"p":"d","g":"Kcnq2/3-KD","k":"lower","d":-2,"v":2.35},{"p":"d","g":"Kcnq2/3-KD","k":"lower","d":21,"v":2.60},{"p":"d","g":"Kcnq2/3-KD","k":"lower","d":49,"v":2.58}
]
},
"columns":2,
"spacing":{"row":121,"column":183},
"bounds":"flush",
"concat":[
{"width":338,"height":225,
 "title":{"text":"a","dx":-112,"offset":-5},
 "layer":[
  {"data":{"values":[{"d":0}]},"mark":{"type":"rule","color":"#555","strokeWidth":1,"strokeDash":[1,1.5]},
   "encoding":{"x":{"field":"d","type":"quantitative","scale":{"domain":[-5,50],"nice":false,"zero":false},"axis":{"values":[0,10,20,30,40,50],"title":"Days post-injection","tickSize":8,"labelPadding":4,"titlePadding":8}}}},
  {"data":{"name":"pts"},"transform":[{"filter":"datum.p==='a'"}],"mark":{"type":"circle","size":32,"opacity":1,"strokeWidth":0.8},
   "encoding":{
    "x":{"field":"d","type":"quantitative","scale":{"domain":[-5,50],"nice":false,"zero":false},"axis":{"values":[0,10,20,30,40,50],"title":"Days post-injection","tickSize":8,"labelPadding":4,"titlePadding":8}},
    "y":{"field":"v","type":"quantitative","scale":{"domain":[0,0.25],"nice":false},"axis":{"values":[0,0.05,0.1,0.15,0.2,0.25],"format":".2f","title":"T\u1d62 (s)","titleX":-74,"titleY":112.5,"titleAngle":-90,"titleAlign":"center","titleBaseline":"bottom","labelPadding":3}},
    "fill":{"field":"g","type":"nominal","scale":{"domain":["control","Kcnq2/3-KD"],"range":["#74e5ee","#c965de"]},
      "legend":{"title":null,"orient":"none","legendX":257.5,"legendY":-161.5,"symbolType":"M-1,0H1M-0.2,0A0.2,0.2,0,1,1,0.2,0A0.2,0.2,0,1,1,-0.2,0Z","symbolSize":729,"symbolStrokeWidth":1.5,"symbolOpacity":1,"labelFontSize":27,"labelFont":"Liberation Sans","labelColor":"#000","labelOffset":14,"rowPadding":12,"padding":0,"labelFontStyle":{"expr":"datum.value === 'Kcnq2/3-KD' ? 'italic' : 'normal'"}}},
    "stroke":{"field":"g","type":"nominal","scale":{"domain":["control","Kcnq2/3-KD"],"range":["#74e5ee","#c965de"]},
      "legend":{"title":null,"orient":"none","legendX":257.5,"legendY":-161.5,"symbolType":"M-1,0H1M-0.2,0A0.2,0.2,0,1,1,0.2,0A0.2,0.2,0,1,1,-0.2,0Z","symbolSize":729,"symbolStrokeWidth":1.5,"symbolOpacity":1,"labelFontSize":27,"labelFont":"Liberation Sans","labelColor":"#000","labelOffset":14,"rowPadding":12,"padding":0,"labelFontStyle":{"expr":"datum.value === 'Kcnq2/3-KD' ? 'italic' : 'normal'"}}}
   }},
  {"data":{"name":"fits"},"transform":[{"filter":"datum.p==='a'"}],"mark":{"type":"line","interpolate":"monotone","strokeWidth":1.3},
   "encoding":{
    "x":{"field":"d","type":"quantitative","scale":{"domain":[-5,50],"nice":false,"zero":false},"axis":{"values":[0,10,20,30,40,50],"title":"Days post-injection","tickSize":8,"labelPadding":4,"titlePadding":8}},
    "y":{"field":"v","type":"quantitative","scale":{"domain":[0,0.25],"nice":false},"axis":{"values":[0,0.05,0.1,0.15,0.2,0.25],"format":".2f","title":"T\u1d62 (s)","titleX":-74,"titleY":112.5,"titleAngle":-90,"titleAlign":"center","titleBaseline":"bottom","labelPadding":3}},
    "color":{"field":"g","type":"nominal","scale":{"domain":["control","Kcnq2/3-KD"],"range":["#55cfe3","#a645c8"]},"legend":null},
    "strokeDash":{"field":"k","type":"nominal","scale":{"domain":["fit","upper","lower"],"range":[[1,0],[4,3],[4,3]]},"legend":null}
   }}
 ]},
{"width":338,"height":225,
 "title":{"text":"b","dx":-106,"offset":-4},
 "layer":[
  {"data":{"values":[{"d":0}]},"mark":{"type":"rule","color":"#555","strokeWidth":1,"strokeDash":[1,1.5]},
   "encoding":{"x":{"field":"d","type":"quantitative","scale":{"domain":[-5,50],"nice":false,"zero":false},"axis":{"values":[0,10,20,30,40,50],"title":null,"labels":false,"tickSize":8}}}},
  {"data":{"name":"pts"},"transform":[{"filter":"datum.p==='b'"}],"mark":{"type":"circle","size":32,"opacity":1,"strokeWidth":0.8},
   "encoding":{
    "x":{"field":"d","type":"quantitative","scale":{"domain":[-5,50],"nice":false,"zero":false},"axis":{"values":[0,10,20,30,40,50],"title":null,"labels":false,"tickSize":8}},
    "y":{"field":"v","type":"quantitative","scale":{"domain":[0,0.4],"nice":false},"axis":{"values":[0,0.1,0.2,0.3,0.4],"format":".1f","title":"T\u2091 (s)","titleX":-61.5,"titleY":112.5,"titleAngle":-90,"titleAlign":"center","titleBaseline":"bottom","labelPadding":3}},
    "fill":{"field":"g","type":"nominal","scale":{"domain":["control","Kcnq2/3-KD"],"range":["#74e5ee","#c965de"]}},
    "stroke":{"field":"g","type":"nominal","scale":{"domain":["control","Kcnq2/3-KD"],"range":["#74e5ee","#c965de"]}}
   }},
  {"data":{"name":"fits"},"transform":[{"filter":"datum.p==='b'"}],"mark":{"type":"line","interpolate":"monotone","strokeWidth":1.3},
   "encoding":{
    "x":{"field":"d","type":"quantitative","scale":{"domain":[-5,50],"nice":false,"zero":false},"axis":{"values":[0,10,20,30,40,50],"title":null,"labels":false,"tickSize":8}},
    "y":{"field":"v","type":"quantitative","scale":{"domain":[0,0.4],"nice":false},"axis":{"values":[0,0.1,0.2,0.3,0.4],"format":".1f","title":"T\u2091 (s)","titleX":-61.5,"titleY":112.5,"titleAngle":-90,"titleAlign":"center","titleBaseline":"bottom","labelPadding":3}},
    "color":{"field":"g","type":"nominal","scale":{"domain":["control","Kcnq2/3-KD"],"range":["#55cfe3","#a645c8"]},"legend":null},
    "strokeDash":{"field":"k","type":"nominal","scale":{"domain":["fit","upper","lower"],"range":[[1,0],[4,3],[4,3]]},"legend":null}
   }}
 ]},
{"width":338,"height":225,
 "title":{"text":"c","dx":-112,"offset":21},
 "layer":[
  {"data":{"values":[{"d":0}]},"mark":{"type":"rule","color":"#555","strokeWidth":1,"strokeDash":[1,1.5]},
   "encoding":{"x":{"field":"d","type":"quantitative","scale":{"domain":[-5,50],"nice":false,"zero":false},"axis":{"values":[0,10,20,30,40,50],"title":null,"labels":false,"tickSize":11}}}},
  {"data":{"name":"pts"},"transform":[{"filter":"datum.p==='c'"}],"mark":{"type":"circle","size":32,"opacity":1,"strokeWidth":0.8},
   "encoding":{
    "x":{"field":"d","type":"quantitative","scale":{"domain":[-5,50],"nice":false,"zero":false},"axis":{"values":[0,10,20,30,40,50],"title":null,"labels":false,"tickSize":11}},
    "y":{"field":"v","type":"quantitative","scale":{"domain":[0,150],"nice":false},"axis":{"values":[0,50,100,150],"title":"V\u0307\u2091/V\u0307O\u2082","titleX":-64.5,"titleY":112.5,"titleAngle":-90,"titleAlign":"center","titleBaseline":"bottom","labelPadding":3}},
    "fill":{"field":"g","type":"nominal","scale":{"domain":["control","Kcnq2/3-KD"],"range":["#74e5ee","#c965de"]}},
    "stroke":{"field":"g","type":"nominal","scale":{"domain":["control","Kcnq2/3-KD"],"range":["#74e5ee","#c965de"]}}
   }},
  {"data":{"name":"fits"},"transform":[{"filter":"datum.p==='c'"}],"mark":{"type":"line","interpolate":"monotone","strokeWidth":1.3},
   "encoding":{
    "x":{"field":"d","type":"quantitative","scale":{"domain":[-5,50],"nice":false,"zero":false},"axis":{"values":[0,10,20,30,40,50],"title":null,"labels":false,"tickSize":11}},
    "y":{"field":"v","type":"quantitative","scale":{"domain":[0,150],"nice":false},"axis":{"values":[0,50,100,150],"title":"V\u0307\u2091/V\u0307O\u2082","titleX":-64.5,"titleY":112.5,"titleAngle":-90,"titleAlign":"center","titleBaseline":"bottom","labelPadding":3}},
    "color":{"field":"g","type":"nominal","scale":{"domain":["control","Kcnq2/3-KD"],"range":["#55cfe3","#a645c8"]},"legend":null},
    "strokeDash":{"field":"k","type":"nominal","scale":{"domain":["fit","upper","lower"],"range":[[1,0],[4,3],[4,3]]},"legend":null}
   }}
 ]},
{"width":338,"height":225,
 "title":{"text":"d","dx":-106.5,"offset":21},
 "layer":[
  {"data":{"values":[{"d":0}]},"mark":{"type":"rule","color":"#555","strokeWidth":1,"strokeDash":[1,1.5]},
   "encoding":{"x":{"field":"d","type":"quantitative","scale":{"domain":[-5,50],"nice":false,"zero":false},"axis":{"values":[0,10,20,30,40,50],"title":null,"labels":false,"tickSize":11}}}},
  {"data":{"name":"pts"},"transform":[{"filter":"datum.p==='d'"}],"mark":{"type":"circle","size":32,"opacity":1,"strokeWidth":0.8},
   "encoding":{
    "x":{"field":"d","type":"quantitative","scale":{"domain":[-5,50],"nice":false,"zero":false},"axis":{"values":[0,10,20,30,40,50],"title":null,"labels":false,"tickSize":11}},
    "y":{"field":"v","type":"quantitative","scale":{"domain":[0,6],"nice":false},"axis":{"values":[0,2,4,6],"title":"V\u0307O\u2082 (mL.100g\u207b\u00b9.min\u207b\u00b9)","titleX":-61.5,"titleY":112.5,"titleAngle":-90,"titleAlign":"center","titleBaseline":"bottom","labelPadding":3}},
    "fill":{"field":"g","type":"nominal","scale":{"domain":["control","Kcnq2/3-KD"],"range":["#74e5ee","#c965de"]}},
    "stroke":{"field":"g","type":"nominal","scale":{"domain":["control","Kcnq2/3-KD"],"range":["#74e5ee","#c965de"]}}
   }},
  {"data":{"name":"fits"},"transform":[{"filter":"datum.p==='d'"}],"mark":{"type":"line","interpolate":"monotone","strokeWidth":1.3},
   "encoding":{
    "x":{"field":"d","type":"quantitative","scale":{"domain":[-5,50],"nice":false,"zero":false},"axis":{"values":[0,10,20,30,40,50],"title":null,"labels":false,"tickSize":11}},
    "y":{"field":"v","type":"quantitative","scale":{"domain":[0,6],"nice":false},"axis":{"values":[0,2,4,6],"title":"V\u0307O\u2082 (mL.100g\u207b\u00b9.min\u207b\u00b9)","titleX":-61.5,"titleY":112.5,"titleAngle":-90,"titleAlign":"center","titleBaseline":"bottom","labelPadding":3}},
    "color":{"field":"g","type":"nominal","scale":{"domain":["control","Kcnq2/3-KD"],"range":["#55cfe3","#a645c8"]},"legend":null},
    "strokeDash":{"field":"k","type":"nominal","scale":{"domain":["fit","upper","lower"],"range":[[1,0],[4,3],[4,3]]},"legend":null}
   }}
 ]}
]
}
